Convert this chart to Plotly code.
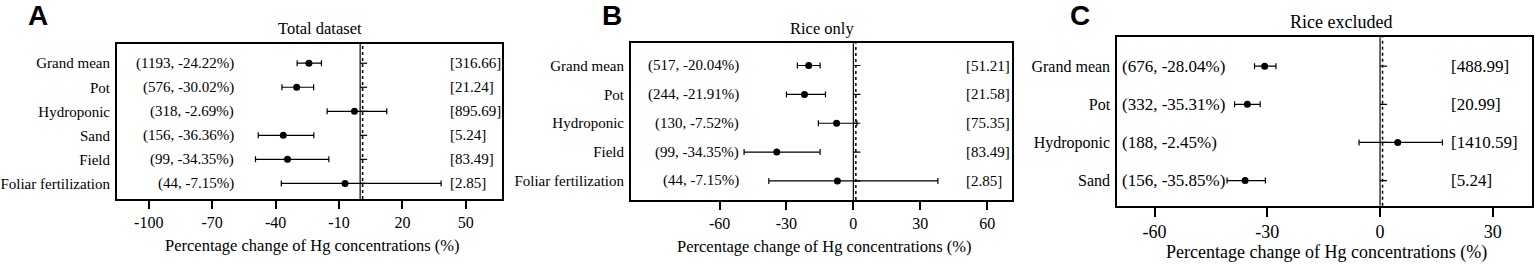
import plotly.graph_objects as go

# ---------------- data ----------------
A_categories = ["Grand mean", "Pot", "Hydroponic", "Sand", "Field", "Foliar fertilization"]
A_n = [1193, 576, 318, 156, 99, 44]
A_pct = [-24.22, -30.02, -2.69, -36.36, -34.35, -7.15]
A_mean = [-24.22, -30.02, -2.69, -36.36, -34.35, -7.15]
A_low = [-29.8, -37.0, -15.6, -48.2, -49.5, -37.3]
A_high = [-18.3, -22.0, 12.6, -21.9, -14.8, 38.3]
A_stat = [316.66, 21.24, 895.69, 5.24, 83.49, 2.85]
A_ticks = [-100, -70, -40, -10, 20, 50]

B_categories = ["Grand mean", "Pot", "Hydroponic", "Field", "Foliar fertilization"]
B_n = [517, 244, 130, 99, 44]
B_pct = [-20.04, -21.91, -7.52, -34.35, -7.15]
B_mean = [-20.04, -21.91, -7.52, -34.35, -7.15]
B_low = [-25.1, -30.0, -15.7, -49.0, -37.9]
B_high = [-14.9, -12.5, 1.6, -14.9, 37.9]
B_stat = [51.21, 21.58, 75.35, 83.49, 2.85]
B_ticks = [-60, -30, 0, 30, 60]

C_categories = ["Grand mean", "Pot", "Hydroponic", "Sand"]
C_n = [676, 332, 188, 156]
C_pct = [-28.04, -35.31, -2.45, -35.85]
C_mean = [-30.7, -35.3, 4.7, -35.9]
C_low = [-33.4, -38.7, -5.6, -40.7]
C_high = [-27.7, -31.9, 16.6, -30.5]
C_stat = [488.99, 20.99, 1410.59, 5.24]
C_ticks = [-60, -30, 0, 30]

# ---------------- layout constants ----------------
W, H = 1535, 265
SERIF = "Times New Roman, Liberation Serif, serif"
SANS = "Arial, Liberation Sans, sans-serif"

panels = [
    dict(cats=A_categories, n=A_n, pct=A_pct, mean=A_mean, low=A_low, high=A_high, stat=A_stat,
         ticks=A_ticks, xr=[-115, 67.1], box=(117, 502, 44, 199), pad=(-0.8, 0.65),
         left_anchor=-58.6, left_x="right", right_anchor=41.4,
         title="Total dataset", title_pos=(320, 29), xtitle_pos=(312, 245.5),
         letter="A", letter_pos=(38, 15.5), fs=15, fs_lab=15, fs_tick=16, fs_title=16.5, ticklen=8),
    dict(cats=B_categories, n=B_n, pct=B_pct, mean=B_mean, low=B_low, high=B_high, stat=B_stat,
         ticks=B_ticks, xr=[-99.7, 71.0], box=(631, 1011.7, 43.3, 200), pad=(-0.77, 0.66),
         left_anchor=-50.6, left_x="right", right_anchor=49.6,
         title="Rice only", title_pos=(821.5, 28.5), xtitle_pos=(824.5, 246.5),
         letter="B", letter_pos=(612, 15.5), fs=15, fs_lab=15, fs_tick=16, fs_title=16.5, ticklen=8),
    dict(cats=C_categories, n=C_n, pct=C_pct, mean=C_mean, low=C_low, high=C_high, stat=C_stat,
         ticks=C_ticks, xr=[-69.9, 40.5], box=(1117.3, 1532.3, 37.2, 205.7), pad=(-0.76, 0.66),
         left_anchor=-69.3, left_x="left", right_anchor=18.4,
         title="Rice excluded", title_pos=(1341, 22.5), xtitle_pos=(1326, 252.5),
         letter="C", letter_pos=(1080, 15.5), fs=16, fs_lab=17, fs_tick=18, fs_title=18, ticklen=9),
]

fig = go.Figure()
annotations = []
shapes = []

for i, p in enumerate(panels, start=1):
    xa = "x" if i == 1 else f"x{i}"
    ya = "y" if i == 1 else f"y{i}"
    xkey = "xaxis" if i == 1 else f"xaxis{i}"
    ykey = "yaxis" if i == 1 else f"yaxis{i}"
    nrow = len(p["cats"])
    rows = list(range(nrow))
    x0, x1, ytop, ybot = p["box"]

    fig.add_trace(go.Scatter(
        x=p["mean"], y=rows, mode="markers", xaxis=xa, yaxis=ya,
        marker=dict(color="black", size=7),
        error_x=dict(type="data", symmetric=False,
                     array=[h - m for h, m in zip(p["high"], p["mean"])],
                     arrayminus=[m - l for m, l in zip(p["mean"], p["low"])],
                     color="black", thickness=1.2, width=3),
        showlegend=False, hoverinfo="skip"))

    fig.update_layout({
        xkey: dict(domain=[x0 / W, x1 / W], range=p["xr"], anchor=ya,
                   tickvals=p["ticks"], ticktext=[str(t) for t in p["ticks"]],
                   ticks="outside", ticklen=p["ticklen"], tickwidth=1.5,
                   tickcolor="black", showline=True, linewidth=2, linecolor="black",
                   mirror=True, showgrid=False, zeroline=False,
                   tickfont=dict(family=SERIF, size=p["fs_tick"], color="black")),
        ykey: dict(domain=[1 - ybot / H, 1 - ytop / H], anchor=xa,
                   range=[nrow - 1 + p["pad"][1], p["pad"][0]],
                   tickvals=rows, ticktext=p["cats"], ticks="", showline=True,
                   linewidth=2, linecolor="black", mirror=True, showgrid=False,
                   zeroline=False, ticklabelstandoff=2,
                   tickfont=dict(family=SERIF, size=p["fs"], color="black")),
    })

    # reference line at zero: solid + dotted companion
    shapes.append(dict(type="line", xref=xa, yref=f"{ya} domain", x0=0, x1=0, y0=0, y1=1,
                       line=dict(color="black", width=1.2)))
    shapes.append(dict(type="line", xref=xa, yref=f"{ya} domain", xsizemode="pixel", xanchor=0,
                       x0=2.5, x1=2.5, y0=0, y1=1,
                       line=dict(color="black", width=1.5, dash="dot")))
    for r in rows:
        shapes.append(dict(type="line", xref=xa, yref=ya, xsizemode="pixel", xanchor=0,
                           x0=0, x1=7, y0=r, y1=r, line=dict(color="black", width=1.2)))

    for r, n, pc, st in zip(rows, p["n"], p["pct"], p["stat"]):
        annotations.append(dict(xref=xa, yref=ya, x=p["left_anchor"], y=r, xanchor=p["left_x"],
                                yanchor="middle", showarrow=False, text=f"({n}, {pc:.2f}%)",
                                font=dict(family=SERIF, size=p["fs_lab"], color="black")))
        annotations.append(dict(xref=xa, yref=ya, x=p["right_anchor"], y=r, xanchor="left",
                                yanchor="middle", showarrow=False, text=f"[{st:.2f}]",
                                font=dict(family=SERIF, size=p["fs_lab"], color="black")))

    annotations.append(dict(xref="paper", yref="paper", x=p["title_pos"][0] / W,
                            y=1 - p["title_pos"][1] / H, xanchor="center", yanchor="middle",
                            showarrow=False, text=p["title"],
                            font=dict(family=SERIF, size=p["fs_title"], color="black")))
    annotations.append(dict(xref="paper", yref="paper", x=p["xtitle_pos"][0] / W,
                            y=1 - p["xtitle_pos"][1] / H, xanchor="center", yanchor="middle",
                            showarrow=False, text="Percentage change of Hg concentrations (%)",
                            font=dict(family=SERIF, size=p["fs_title"], color="black")))
    annotations.append(dict(xref="paper", yref="paper", x=p["letter_pos"][0] / W,
                            y=1 - p["letter_pos"][1] / H, xanchor="center", yanchor="middle",
                            showarrow=False, text=f"<b>{p['letter']}</b>",
                            font=dict(family=SANS, size=28, color="black")))

fig.update_layout(width=W, height=H, margin=dict(l=0, r=0, t=0, b=0),
                  paper_bgcolor="white", plot_bgcolor="white",
                  annotations=annotations, shapes=shapes, showlegend=False)

fig.write_html("out.html", config={"displayModeBar": False},
               post_script="document.body.style.margin='0';")
